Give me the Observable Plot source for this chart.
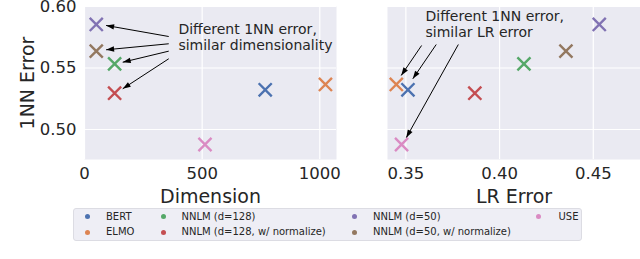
<!DOCTYPE html>
<html><head><meta charset="utf-8">
<script src="https://cdn.jsdelivr.net/npm/d3@7"></script>
<script src="https://cdn.jsdelivr.net/npm/@observablehq/plot@0.6"></script>
<style>
body{margin:0;background:#fff;}
#fig{position:relative;width:640px;height:259px;overflow:hidden;font-family:"DejaVu Sans",sans-serif;color:#262626;background:#fff;}
#left,#right{position:absolute;top:0;}
#left{left:0}
#right{left:340px}
#legend{position:absolute;left:73px;top:208px;width:509px;height:33px;box-sizing:border-box;background:#eeeef5;border:1px solid #dcdce3;border-radius:3px;font-size:10px;}
.item{position:absolute;white-space:nowrap;line-height:12px;height:12px;}
.dot{position:absolute;width:5px;height:5px;border-radius:50%;}
</style></head><body>
<div id="fig"><div id="left"></div><div id="right"></div><div id="legend"></div></div>
<script>
// ---- data ----
const models = ["BERT","ELMO","NNLM (d=128)","NNLM (d=128, w/ normalize)","NNLM (d=50)","NNLM (d=50, w/ normalize)","USE"];
const colors = ["#4C72B0","#DD8452","#55A868","#C44E52","#8172B3","#937860","#DA8BC3"];
const dimension = [768,1024,128,128,50,50,512];
const lrError   = [0.3511,0.3449,0.4130,0.3868,0.4532,0.4354,0.3477];
const nnError   = [0.5323,0.5366,0.5534,0.5295,0.5854,0.5637,0.4878];
const dimTicks = [0,500,1000];
const lrTicks  = [0.35,0.40,0.45];
const errTicks = [0.50,0.55,0.60];
// annotations (data units)
const leftNote  = {x:399, y:0.5648, text:"Different 1NN error,\nsimilar dimensionality"};
const rightNote = {x:0.3605, y:0.5756, text:"Different 1NN error,\nsimilar LR error"};
const leftArrowX1 = [358,358,358,358];
const leftArrowY1 = [0.5756,0.5697,0.5637,0.5575];
const leftArrowX2 = [91.8,91.8,162.4,162.4];
const leftArrowY2 = [0.5846,0.5648,0.5547,0.5331];
const rightArrowX1 = [0.3584,0.3662,0.3780];
const rightArrowY1 = [0.5683,0.5691,0.5691];
const rightArrowX2 = [0.3475,0.3537,0.3502];
const rightArrowY2 = [0.5439,0.5412,0.4933];

const rows = models.map((m,i)=>({model:m, dim:dimension[i], lr:lrError[i], nn:nnError[i]}));
const leftArrows = leftArrowX1.map((_,i)=>({x1:leftArrowX1[i],y1:leftArrowY1[i],x2:leftArrowX2[i],y2:leftArrowY2[i]}));
const rightArrows = rightArrowX1.map((_,i)=>({x1:rightArrowX1[i],y1:rightArrowY1[i],x2:rightArrowX2[i],y2:rightArrowY2[i]}));

function filledArrow(color) {
  const m = d3.create("svg:marker")
    .attr("viewBox","-9 -4 10 8").attr("markerWidth",10).attr("markerHeight",8)
    .attr("markerUnits","userSpaceOnUse").attr("orient","auto")
    .attr("refX",0).attr("refY",0).attr("overflow","visible");
  m.append("path").attr("d","M-8,-2.7L0,0L-8,2.7Z").attr("fill",color).attr("stroke","none");
  return m.node();
}

const bg = "#EAEAF2";
const style = {fontFamily:"DejaVu Sans", color:"#262626", background:"transparent", overflow:"visible"};
const yDomain = [0.4756, 0.60];
const gridStyle = {stroke:"white", strokeOpacity:1, strokeWidth:1.2};
const dotOpts = (xk) => ({x:xk, y:"nn", stroke:"model", symbol:"times", r:6, strokeWidth:2.4});

const left = Plot.plot({
  width:340, height:208, marginTop:6, marginLeft:84, marginRight:4, marginBottom:49,
  style,
  x:{domain:[0,1071]},
  y:{domain:yDomain},
  color:{domain:models, range:colors},
  marks:[
    Plot.frame({fill:bg, stroke:null}),
    Plot.gridX(dimTicks, gridStyle),
    Plot.gridY(errTicks, gridStyle),
    Plot.axisX(dimTicks, {tickSize:0, tickPadding:8, fontSize:16.5, tickFormat:d3.format("d"), label:null}),
    Plot.axisY(errTicks, {tickSize:0, tickPadding:8, fontSize:16.5, tickFormat:d3.format(".2f"), label:null}),
    Plot.text(["Dimension"], {text:d=>d, frameAnchor:"bottom", lineAnchor:"bottom", dy:43, fontSize:19}),
    Plot.text(["1NN Error"], {text:d=>d, frameAnchor:"left", textAnchor:"middle", rotate:-90, lineAnchor:"bottom", dx:-51, fontSize:19}),
    Plot.link(leftArrows, {x1:"x1", y1:"y1", x2:"x2", y2:"y2", stroke:"black", strokeWidth:1, markerEnd:filledArrow}),
    Plot.text([leftNote], {x:"x", y:"y", text:"text", textAnchor:"start", lineAnchor:"bottom", lineHeight:1.1, fontSize:14, fill:"#262626"}),
    Plot.dot(rows, dotOpts("dim"))
  ]
});
document.getElementById("left").append(left);

const right = Plot.plot({
  width:300, height:208, marginTop:6, marginLeft:47, marginRight:0, marginBottom:49,
  style,
  x:{domain:[0.3402,0.4752]},
  y:{domain:yDomain, axis:null},
  color:{domain:models, range:colors},
  marks:[
    Plot.frame({fill:bg, stroke:null}),
    Plot.gridX(lrTicks, gridStyle),
    Plot.gridY(errTicks, gridStyle),
    Plot.axisX(lrTicks, {tickSize:0, tickPadding:8, fontSize:16.5, tickFormat:d3.format(".2f"), label:null}),
    Plot.text(["LR Error"], {text:d=>d, frameAnchor:"bottom", lineAnchor:"bottom", dy:43, fontSize:19}),
    Plot.link(rightArrows, {x1:"x1", y1:"y1", x2:"x2", y2:"y2", stroke:"black", strokeWidth:1, markerEnd:filledArrow}),
    Plot.text([rightNote], {x:"x", y:"y", text:"text", textAnchor:"start", lineAnchor:"bottom", lineHeight:1.1, fontSize:14, fill:"#262626"}),
    Plot.dot(rows, dotOpts("lr"))
  ]
});
document.getElementById("right").append(right);

// ---- legend (column-major, 4 columns x 2 rows) ----
const colorScale = left.scale("color");
const dotX = [14.5, 90.5, 281.5, 465];
const textX = [33, 108.5, 300, 485.5];
const rowY = [8.5, 24];
const legend = document.getElementById("legend");
models.forEach((m,i)=>{
  const c = Math.floor(i/2), r = i%2;
  const dot = document.createElement("div");
  dot.className = "dot";
  dot.style.left = (dotX[c]-2.5-1)+"px";
  dot.style.top = (rowY[r]-2.5-1)+"px";
  dot.style.background = colorScale.apply(m);
  legend.append(dot);
  const t = document.createElement("div");
  t.className = "item";
  t.style.left = (textX[c]-1)+"px";
  t.style.top = (rowY[r]-6-1)+"px";
  t.textContent = m;
  legend.append(t);
});
</script>
</body></html>
